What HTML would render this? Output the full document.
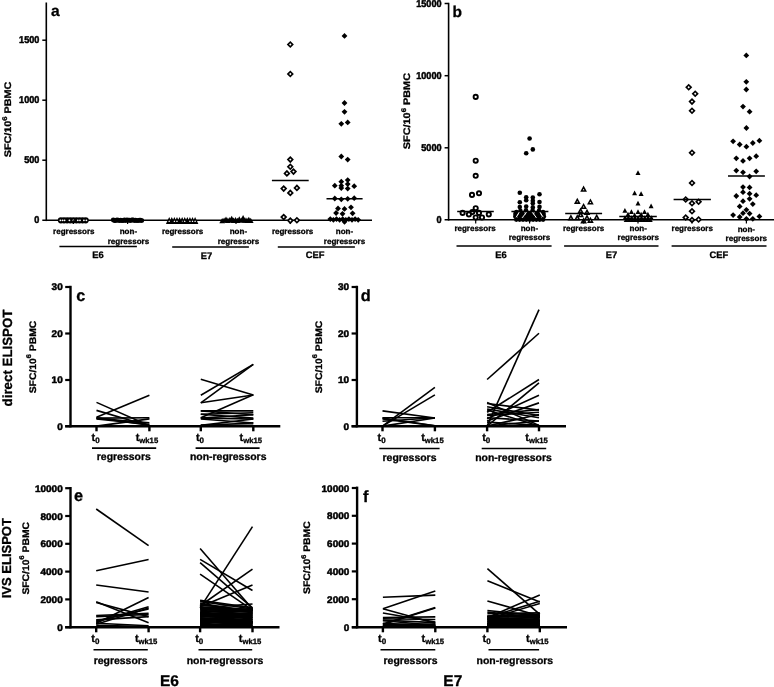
<!DOCTYPE html>
<html><head><meta charset="utf-8"><title>Figure</title>
<style>
html,body{margin:0;padding:0;background:#fff;}
body{width:774px;height:687px;overflow:hidden;font-family:"Liberation Sans",sans-serif;}
svg{display:block;will-change:transform;}
svg text{font-family:"Liberation Sans",sans-serif;font-weight:bold;fill:#000;text-rendering:geometricPrecision;}
</style></head><body>
<svg width="774" height="687" viewBox="0 0 774 687" stroke="#000" fill="none">
<rect x="0" y="0" width="774" height="687" fill="#fff" stroke="none"/>
<g stroke="#000">
<line x1="46.30" y1="2.50" x2="46.30" y2="221.10" stroke-width="1.6" stroke-linecap="butt"/>
<line x1="42.30" y1="220.30" x2="372.00" y2="220.30" stroke-width="1.6" stroke-linecap="butt"/>
<line x1="42.30" y1="40.20" x2="46.30" y2="40.20" stroke-width="1.5" stroke-linecap="butt"/>
<text stroke="#000" stroke-linejoin="round" transform="translate(39.40,43.20) scale(0.925,1)" font-size="9.9" text-anchor="end" stroke-width="0.5">1500</text>
<line x1="42.30" y1="100.20" x2="46.30" y2="100.20" stroke-width="1.5" stroke-linecap="butt"/>
<text stroke="#000" stroke-linejoin="round" transform="translate(39.40,103.20) scale(0.925,1)" font-size="9.9" text-anchor="end" stroke-width="0.5">1000</text>
<line x1="42.30" y1="160.20" x2="46.30" y2="160.20" stroke-width="1.5" stroke-linecap="butt"/>
<text stroke="#000" stroke-linejoin="round" transform="translate(39.40,163.20) scale(0.925,1)" font-size="9.9" text-anchor="end" stroke-width="0.5">500</text>
<text stroke="#000" stroke-linejoin="round" transform="translate(39.40,223.30) scale(0.925,1)" font-size="9.9" text-anchor="end" stroke-width="0.5">0</text>
<text stroke="#000" stroke-linejoin="round" stroke-width="0.3" x="51.00" y="16.00" font-size="15.5" text-anchor="start" >a</text>
<text stroke="#000" stroke-linejoin="round" stroke-width="0.3" transform="translate(11.30,119.50) rotate(-90) scale(1.135,1)" font-size="9.5" text-anchor="middle">SFC/10<tspan font-size="6.8" dy="-4.7">6</tspan><tspan dy="4.7"> PBMC</tspan></text>
<circle cx="60.90" cy="220.30" r="3.1" fill="#000" stroke="none"/>
<circle cx="64.00" cy="220.30" r="3.1" fill="#000" stroke="none"/>
<circle cx="67.10" cy="220.30" r="3.1" fill="#000" stroke="none"/>
<circle cx="70.20" cy="220.30" r="3.1" fill="#000" stroke="none"/>
<circle cx="73.30" cy="220.30" r="3.1" fill="#000" stroke="none"/>
<circle cx="76.40" cy="220.30" r="3.1" fill="#000" stroke="none"/>
<circle cx="79.50" cy="220.30" r="3.1" fill="#000" stroke="none"/>
<circle cx="82.60" cy="220.30" r="3.1" fill="#000" stroke="none"/>
<circle cx="85.70" cy="220.30" r="3.1" fill="#000" stroke="none"/>
<circle cx="60.4" cy="220.30" r="0.9" fill="#fff" stroke="none"/>
<circle cx="62.6" cy="220.30" r="0.9" fill="#fff" stroke="none"/>
<circle cx="64.6" cy="220.30" r="0.9" fill="#fff" stroke="none"/>
<circle cx="69.4" cy="220.30" r="0.9" fill="#fff" stroke="none"/>
<circle cx="73.3" cy="220.30" r="0.9" fill="#fff" stroke="none"/>
<circle cx="77.8" cy="220.30" r="0.9" fill="#fff" stroke="none"/>
<circle cx="80.0" cy="220.30" r="0.9" fill="#fff" stroke="none"/>
<circle cx="83.9" cy="220.30" r="0.9" fill="#fff" stroke="none"/>
<circle cx="86.4" cy="220.30" r="0.9" fill="#fff" stroke="none"/>
<circle cx="113.30" cy="220.00" r="2.45" fill="#000" stroke="none"/>
<circle cx="114.54" cy="220.60" r="2.45" fill="#000" stroke="none"/>
<circle cx="115.78" cy="220.60" r="2.45" fill="#000" stroke="none"/>
<circle cx="117.02" cy="220.00" r="2.45" fill="#000" stroke="none"/>
<circle cx="118.26" cy="220.30" r="2.45" fill="#000" stroke="none"/>
<circle cx="119.50" cy="220.60" r="2.45" fill="#000" stroke="none"/>
<circle cx="120.74" cy="220.30" r="2.45" fill="#000" stroke="none"/>
<circle cx="121.98" cy="220.60" r="2.45" fill="#000" stroke="none"/>
<circle cx="123.22" cy="220.60" r="2.45" fill="#000" stroke="none"/>
<circle cx="124.46" cy="220.00" r="2.45" fill="#000" stroke="none"/>
<circle cx="125.70" cy="220.60" r="2.45" fill="#000" stroke="none"/>
<circle cx="126.94" cy="220.00" r="2.45" fill="#000" stroke="none"/>
<circle cx="128.18" cy="220.30" r="2.45" fill="#000" stroke="none"/>
<circle cx="129.42" cy="220.30" r="2.45" fill="#000" stroke="none"/>
<circle cx="130.66" cy="220.60" r="2.45" fill="#000" stroke="none"/>
<circle cx="131.90" cy="220.00" r="2.45" fill="#000" stroke="none"/>
<circle cx="133.14" cy="220.00" r="2.45" fill="#000" stroke="none"/>
<circle cx="134.38" cy="220.60" r="2.45" fill="#000" stroke="none"/>
<circle cx="135.62" cy="220.30" r="2.45" fill="#000" stroke="none"/>
<circle cx="136.86" cy="220.60" r="2.45" fill="#000" stroke="none"/>
<circle cx="138.10" cy="220.60" r="2.45" fill="#000" stroke="none"/>
<circle cx="139.34" cy="220.30" r="2.45" fill="#000" stroke="none"/>
<circle cx="140.58" cy="220.30" r="2.45" fill="#000" stroke="none"/>
<circle cx="141.82" cy="220.60" r="2.45" fill="#000" stroke="none"/>
<path d="M169.20 217.10L172.50 223.90L165.90 223.90Z" fill="#000" stroke="none"/>
<path d="M171.79 217.10L175.09 223.90L168.49 223.90Z" fill="#000" stroke="none"/>
<path d="M174.38 217.10L177.68 223.90L171.08 223.90Z" fill="#000" stroke="none"/>
<path d="M176.97 217.10L180.27 223.90L173.67 223.90Z" fill="#000" stroke="none"/>
<path d="M179.56 217.10L182.86 223.90L176.26 223.90Z" fill="#000" stroke="none"/>
<path d="M182.15 217.10L185.45 223.90L178.85 223.90Z" fill="#000" stroke="none"/>
<path d="M184.74 217.10L188.04 223.90L181.44 223.90Z" fill="#000" stroke="none"/>
<path d="M187.33 217.10L190.63 223.90L184.03 223.90Z" fill="#000" stroke="none"/>
<path d="M189.92 217.10L193.22 223.90L186.62 223.90Z" fill="#000" stroke="none"/>
<path d="M192.51 217.10L195.81 223.90L189.21 223.90Z" fill="#000" stroke="none"/>
<path d="M195.10 217.10L198.40 223.90L191.80 223.90Z" fill="#000" stroke="none"/>
<path d="M169.20 220.30L170.10 222.10L168.30 222.10Z" fill="#fff" stroke="none"/>
<path d="M174.38 220.30L175.28 222.10L173.48 222.10Z" fill="#fff" stroke="none"/>
<path d="M176.97 220.30L177.87 222.10L176.07 222.10Z" fill="#fff" stroke="none"/>
<path d="M182.15 220.30L183.05 222.10L181.25 222.10Z" fill="#fff" stroke="none"/>
<path d="M184.74 220.30L185.64 222.10L183.84 222.10Z" fill="#fff" stroke="none"/>
<path d="M189.92 220.30L190.82 222.10L189.02 222.10Z" fill="#fff" stroke="none"/>
<path d="M192.51 220.30L193.41 222.10L191.61 222.10Z" fill="#fff" stroke="none"/>
<path d="M195.10 220.30L196.00 222.10L194.20 222.10Z" fill="#fff" stroke="none"/>
<path d="M222.20 217.90L225.10 223.30L219.30 223.30Z" fill="#000" stroke="none"/>
<path d="M224.10 217.40L227.00 222.80L221.20 222.80Z" fill="#000" stroke="none"/>
<path d="M226.00 216.40L228.90 221.80L223.10 221.80Z" fill="#000" stroke="none"/>
<path d="M227.90 217.60L230.80 223.00L225.00 223.00Z" fill="#000" stroke="none"/>
<path d="M229.80 217.10L232.70 222.50L226.90 222.50Z" fill="#000" stroke="none"/>
<path d="M231.70 215.70L234.60 221.10L228.80 221.10Z" fill="#000" stroke="none"/>
<path d="M233.60 217.50L236.50 222.90L230.70 222.90Z" fill="#000" stroke="none"/>
<path d="M235.50 216.90L238.40 222.30L232.60 222.30Z" fill="#000" stroke="none"/>
<path d="M237.40 217.70L240.30 223.10L234.50 223.10Z" fill="#000" stroke="none"/>
<path d="M239.30 216.30L242.20 221.70L236.40 221.70Z" fill="#000" stroke="none"/>
<path d="M241.20 217.40L244.10 222.80L238.30 222.80Z" fill="#000" stroke="none"/>
<path d="M243.10 215.10L246.00 220.50L240.20 220.50Z" fill="#000" stroke="none"/>
<path d="M245.00 217.30L247.90 222.70L242.10 222.70Z" fill="#000" stroke="none"/>
<path d="M246.90 217.60L249.80 223.00L244.00 223.00Z" fill="#000" stroke="none"/>
<path d="M248.80 216.70L251.70 222.10L245.90 222.10Z" fill="#000" stroke="none"/>
<path d="M250.70 217.70L253.60 223.10L247.80 223.10Z" fill="#000" stroke="none"/>
<text stroke="#000" stroke-linejoin="round" stroke-width="0.3" x="73.80" y="234.00" font-size="8" text-anchor="middle" >regressors</text>
<text stroke="#000" stroke-linejoin="round" stroke-width="0.3" x="128.40" y="234.00" font-size="8" text-anchor="middle" >non-</text>
<text stroke="#000" stroke-linejoin="round" stroke-width="0.3" x="128.40" y="243.60" font-size="8" text-anchor="middle" >regressors</text>
<line x1="59.40" y1="246.60" x2="136.90" y2="246.60" stroke-width="1.5" stroke-linecap="butt"/>
<text stroke="#000" stroke-linejoin="round" stroke-width="0.3" x="98.10" y="258.00" font-size="9.4" text-anchor="middle" >E6</text>
<text stroke="#000" stroke-linejoin="round" stroke-width="0.3" x="182.60" y="234.00" font-size="8" text-anchor="middle" >regressors</text>
<text stroke="#000" stroke-linejoin="round" stroke-width="0.3" x="238.40" y="234.00" font-size="8" text-anchor="middle" >non-</text>
<text stroke="#000" stroke-linejoin="round" stroke-width="0.3" x="238.40" y="243.60" font-size="8" text-anchor="middle" >regressors</text>
<line x1="172.20" y1="246.90" x2="248.90" y2="246.90" stroke-width="1.5" stroke-linecap="butt"/>
<text stroke="#000" stroke-linejoin="round" stroke-width="0.3" x="206.60" y="258.90" font-size="9.4" text-anchor="middle" >E7</text>
<text stroke="#000" stroke-linejoin="round" stroke-width="0.3" x="292.60" y="234.00" font-size="8" text-anchor="middle" >regressors</text>
<text stroke="#000" stroke-linejoin="round" stroke-width="0.3" x="344.50" y="234.00" font-size="8" text-anchor="middle" >non-</text>
<text stroke="#000" stroke-linejoin="round" stroke-width="0.3" x="344.50" y="243.60" font-size="8" text-anchor="middle" >regressors</text>
<line x1="277.80" y1="246.90" x2="354.90" y2="246.90" stroke-width="1.5" stroke-linecap="butt"/>
<text stroke="#000" stroke-linejoin="round" stroke-width="0.3" x="315.00" y="257.80" font-size="9.4" text-anchor="middle" >CEF</text>
<line x1="73.40" y1="220.30" x2="73.40" y2="224.00" stroke-width="1.2" stroke-linecap="butt"/>
<line x1="127.60" y1="220.30" x2="127.60" y2="224.00" stroke-width="1.2" stroke-linecap="butt"/>
<line x1="181.80" y1="220.30" x2="181.80" y2="224.00" stroke-width="1.2" stroke-linecap="butt"/>
<line x1="236.00" y1="220.30" x2="236.00" y2="224.00" stroke-width="1.2" stroke-linecap="butt"/>
<line x1="290.30" y1="220.30" x2="290.30" y2="224.00" stroke-width="1.2" stroke-linecap="butt"/>
<line x1="344.50" y1="220.30" x2="344.50" y2="224.00" stroke-width="1.2" stroke-linecap="butt"/>
<path d="M290.30 40.95L293.85 44.50L290.30 48.05L286.75 44.50Z" fill="#000" stroke="none"/>
<path d="M290.30 43.30L291.50 44.50L290.30 45.70L289.10 44.50Z" fill="#fff" stroke="none"/>
<path d="M290.30 70.45L293.85 74.00L290.30 77.55L286.75 74.00Z" fill="#000" stroke="none"/>
<path d="M290.30 72.80L291.50 74.00L290.30 75.20L289.10 74.00Z" fill="#fff" stroke="none"/>
<path d="M290.30 156.05L293.85 159.60L290.30 163.15L286.75 159.60Z" fill="#000" stroke="none"/>
<path d="M290.30 158.40L291.50 159.60L290.30 160.80L289.10 159.60Z" fill="#fff" stroke="none"/>
<path d="M290.30 163.25L293.85 166.80L290.30 170.35L286.75 166.80Z" fill="#000" stroke="none"/>
<path d="M290.30 165.60L291.50 166.80L290.30 168.00L289.10 166.80Z" fill="#fff" stroke="none"/>
<path d="M293.50 168.05L297.05 171.60L293.50 175.15L289.95 171.60Z" fill="#000" stroke="none"/>
<path d="M293.50 170.40L294.70 171.60L293.50 172.80L292.30 171.60Z" fill="#fff" stroke="none"/>
<path d="M286.90 169.85L290.45 173.40L286.90 176.95L283.35 173.40Z" fill="#000" stroke="none"/>
<path d="M286.90 172.20L288.10 173.40L286.90 174.60L285.70 173.40Z" fill="#fff" stroke="none"/>
<path d="M283.70 185.05L287.25 188.60L283.70 192.15L280.15 188.60Z" fill="#000" stroke="none"/>
<path d="M283.70 187.40L284.90 188.60L283.70 189.80L282.50 188.60Z" fill="#fff" stroke="none"/>
<path d="M296.90 184.35L300.45 187.90L296.90 191.45L293.35 187.90Z" fill="#000" stroke="none"/>
<path d="M296.90 186.70L298.10 187.90L296.90 189.10L295.70 187.90Z" fill="#fff" stroke="none"/>
<path d="M290.30 189.35L293.85 192.90L290.30 196.45L286.75 192.90Z" fill="#000" stroke="none"/>
<path d="M290.30 191.70L291.50 192.90L290.30 194.10L289.10 192.90Z" fill="#fff" stroke="none"/>
<path d="M283.70 213.55L287.25 217.10L283.70 220.65L280.15 217.10Z" fill="#000" stroke="none"/>
<path d="M283.70 215.90L284.90 217.10L283.70 218.30L282.50 217.10Z" fill="#fff" stroke="none"/>
<path d="M290.30 217.05L293.85 220.60L290.30 224.15L286.75 220.60Z" fill="#000" stroke="none"/>
<path d="M290.30 219.40L291.50 220.60L290.30 221.80L289.10 220.60Z" fill="#fff" stroke="none"/>
<path d="M296.90 216.65L300.45 220.20L296.90 223.75L293.35 220.20Z" fill="#000" stroke="none"/>
<path d="M296.90 219.00L298.10 220.20L296.90 221.40L295.70 220.20Z" fill="#fff" stroke="none"/>
<line x1="271.90" y1="180.60" x2="308.70" y2="180.60" stroke-width="1.5" stroke-linecap="butt"/>
<path d="M344.50 33.00L347.40 35.90L344.50 38.80L341.60 35.90Z" fill="#000" stroke="none"/>
<path d="M344.50 100.10L347.40 103.00L344.50 105.90L341.60 103.00Z" fill="#000" stroke="none"/>
<path d="M344.50 108.90L347.40 111.80L344.50 114.70L341.60 111.80Z" fill="#000" stroke="none"/>
<path d="M341.30 120.90L344.20 123.80L341.30 126.70L338.40 123.80Z" fill="#000" stroke="none"/>
<path d="M347.70 119.50L350.60 122.40L347.70 125.30L344.80 122.40Z" fill="#000" stroke="none"/>
<path d="M341.30 153.60L344.20 156.50L341.30 159.40L338.40 156.50Z" fill="#000" stroke="none"/>
<path d="M347.70 156.70L350.60 159.60L347.70 162.50L344.80 159.60Z" fill="#000" stroke="none"/>
<path d="M347.70 177.20L350.60 180.10L347.70 183.00L344.80 180.10Z" fill="#000" stroke="none"/>
<path d="M341.30 178.80L344.20 181.70L341.30 184.60L338.40 181.70Z" fill="#000" stroke="none"/>
<path d="M347.70 181.20L350.60 184.10L347.70 187.00L344.80 184.10Z" fill="#000" stroke="none"/>
<path d="M334.80 182.80L337.70 185.70L334.80 188.60L331.90 185.70Z" fill="#000" stroke="none"/>
<path d="M341.30 182.80L344.20 185.70L341.30 188.60L338.40 185.70Z" fill="#000" stroke="none"/>
<path d="M354.20 183.30L357.10 186.20L354.20 189.10L351.30 186.20Z" fill="#000" stroke="none"/>
<path d="M341.30 185.20L344.20 188.10L341.30 191.00L338.40 188.10Z" fill="#000" stroke="none"/>
<path d="M347.70 185.70L350.60 188.60L347.70 191.50L344.80 188.60Z" fill="#000" stroke="none"/>
<path d="M334.80 195.60L337.70 198.50L334.80 201.40L331.90 198.50Z" fill="#000" stroke="none"/>
<path d="M341.30 196.40L344.20 199.30L341.30 202.20L338.40 199.30Z" fill="#000" stroke="none"/>
<path d="M347.70 195.90L350.60 198.80L347.70 201.70L344.80 198.80Z" fill="#000" stroke="none"/>
<path d="M354.20 195.30L357.10 198.20L354.20 201.10L351.30 198.20Z" fill="#000" stroke="none"/>
<path d="M351.00 204.40L353.90 207.30L351.00 210.20L348.10 207.30Z" fill="#000" stroke="none"/>
<path d="M338.00 205.60L340.90 208.50L338.00 211.40L335.10 208.50Z" fill="#000" stroke="none"/>
<path d="M344.50 206.00L347.40 208.90L344.50 211.80L341.60 208.90Z" fill="#000" stroke="none"/>
<path d="M336.10 210.10L339.00 213.00L336.10 215.90L333.20 213.00Z" fill="#000" stroke="none"/>
<path d="M342.50 210.90L345.40 213.80L342.50 216.70L339.60 213.80Z" fill="#000" stroke="none"/>
<path d="M352.60 210.40L355.50 213.30L352.60 216.20L349.70 213.30Z" fill="#000" stroke="none"/>
<path d="M344.50 218.90L347.40 221.80L344.50 224.70L341.60 221.80Z" fill="#000" stroke="none"/>
<path d="M330.30 216.20L333.20 219.10L330.30 222.00L327.40 219.10Z" fill="#000" stroke="none"/>
<path d="M333.40 216.90L336.30 219.80L333.40 222.70L330.50 219.80Z" fill="#000" stroke="none"/>
<path d="M336.50 216.20L339.40 219.10L336.50 222.00L333.60 219.10Z" fill="#000" stroke="none"/>
<path d="M339.60 216.90L342.50 219.80L339.60 222.70L336.70 219.80Z" fill="#000" stroke="none"/>
<path d="M342.70 216.20L345.60 219.10L342.70 222.00L339.80 219.10Z" fill="#000" stroke="none"/>
<path d="M345.80 216.90L348.70 219.80L345.80 222.70L342.90 219.80Z" fill="#000" stroke="none"/>
<path d="M348.90 216.20L351.80 219.10L348.90 222.00L346.00 219.10Z" fill="#000" stroke="none"/>
<path d="M352.00 216.90L354.90 219.80L352.00 222.70L349.10 219.80Z" fill="#000" stroke="none"/>
<path d="M355.10 216.20L358.00 219.10L355.10 222.00L352.20 219.10Z" fill="#000" stroke="none"/>
<path d="M358.20 216.90L361.10 219.80L358.20 222.70L355.30 219.80Z" fill="#000" stroke="none"/>
<line x1="326.50" y1="198.80" x2="362.60" y2="198.80" stroke-width="1.5" stroke-linecap="butt"/>
<line x1="448.60" y1="2.80" x2="448.60" y2="220.60" stroke-width="1.6" stroke-linecap="butt"/>
<line x1="444.60" y1="219.80" x2="774.00" y2="219.80" stroke-width="1.6" stroke-linecap="butt"/>
<line x1="444.60" y1="3.50" x2="448.60" y2="3.50" stroke-width="1.5" stroke-linecap="butt"/>
<text stroke="#000" stroke-linejoin="round" transform="translate(441.60,6.50) scale(0.925,1)" font-size="9.9" text-anchor="end" stroke-width="0.5">15000</text>
<line x1="444.60" y1="75.70" x2="448.60" y2="75.70" stroke-width="1.5" stroke-linecap="butt"/>
<text stroke="#000" stroke-linejoin="round" transform="translate(441.60,78.70) scale(0.925,1)" font-size="9.9" text-anchor="end" stroke-width="0.5">10000</text>
<line x1="444.60" y1="147.80" x2="448.60" y2="147.80" stroke-width="1.5" stroke-linecap="butt"/>
<text stroke="#000" stroke-linejoin="round" transform="translate(441.60,150.80) scale(0.925,1)" font-size="9.9" text-anchor="end" stroke-width="0.5">5000</text>
<text stroke="#000" stroke-linejoin="round" transform="translate(441.60,222.80) scale(0.925,1)" font-size="9.9" text-anchor="end" stroke-width="0.5">0</text>
<text stroke="#000" stroke-linejoin="round" stroke-width="0.3" x="452.40" y="16.50" font-size="15.5" text-anchor="start" >b</text>
<text stroke="#000" stroke-linejoin="round" stroke-width="0.3" transform="translate(410.20,111.10) rotate(-90) scale(1.145,1)" font-size="9.5" text-anchor="middle">SFC/10<tspan font-size="6.8" dy="-4.7">6</tspan><tspan dy="4.7"> PBMC</tspan></text>
<circle cx="475.70" cy="96.90" r="2.1" fill="#fff" stroke-width="1.9"/>
<circle cx="475.70" cy="160.70" r="2.1" fill="#fff" stroke-width="1.9"/>
<circle cx="475.70" cy="175.80" r="2.1" fill="#fff" stroke-width="1.9"/>
<circle cx="479.00" cy="193.30" r="2.1" fill="#fff" stroke-width="1.9"/>
<circle cx="472.00" cy="194.90" r="2.1" fill="#fff" stroke-width="1.9"/>
<circle cx="475.70" cy="208.20" r="2.1" fill="#fff" stroke-width="1.9"/>
<circle cx="462.60" cy="212.90" r="2.1" fill="#fff" stroke-width="1.9"/>
<circle cx="472.30" cy="212.10" r="2.1" fill="#fff" stroke-width="1.9"/>
<circle cx="479.00" cy="212.90" r="2.1" fill="#fff" stroke-width="1.9"/>
<circle cx="468.90" cy="214.40" r="2.1" fill="#fff" stroke-width="1.9"/>
<circle cx="488.80" cy="214.40" r="2.1" fill="#fff" stroke-width="1.9"/>
<circle cx="475.70" cy="217.50" r="2.1" fill="#fff" stroke-width="1.9"/>
<circle cx="482.00" cy="217.50" r="2.1" fill="#fff" stroke-width="1.9"/>
<line x1="457.20" y1="211.60" x2="493.80" y2="211.60" stroke-width="1.5" stroke-linecap="butt"/>
<circle cx="529.60" cy="138.50" r="2.3" fill="#000" stroke="none"/>
<circle cx="532.80" cy="149.40" r="2.3" fill="#000" stroke="none"/>
<circle cx="526.20" cy="153.30" r="2.3" fill="#000" stroke="none"/>
<circle cx="519.80" cy="192.80" r="2.3" fill="#000" stroke="none"/>
<circle cx="539.50" cy="194.30" r="2.3" fill="#000" stroke="none"/>
<circle cx="526.20" cy="197.30" r="2.3" fill="#000" stroke="none"/>
<circle cx="532.80" cy="197.60" r="2.3" fill="#000" stroke="none"/>
<circle cx="526.20" cy="200.30" r="2.3" fill="#000" stroke="none"/>
<circle cx="532.80" cy="200.70" r="2.3" fill="#000" stroke="none"/>
<circle cx="519.80" cy="202.30" r="2.3" fill="#000" stroke="none"/>
<circle cx="539.50" cy="202.00" r="2.3" fill="#000" stroke="none"/>
<circle cx="532.80" cy="203.20" r="2.3" fill="#000" stroke="none"/>
<circle cx="519.80" cy="207.00" r="2.3" fill="#000" stroke="none"/>
<circle cx="526.20" cy="206.50" r="2.3" fill="#000" stroke="none"/>
<circle cx="532.80" cy="207.40" r="2.3" fill="#000" stroke="none"/>
<circle cx="539.50" cy="206.90" r="2.3" fill="#000" stroke="none"/>
<circle cx="515.40" cy="213.90" r="2.3" fill="#000" stroke="none"/>
<circle cx="520.60" cy="213.90" r="2.3" fill="#000" stroke="none"/>
<circle cx="522.60" cy="213.90" r="2.3" fill="#000" stroke="none"/>
<circle cx="527.80" cy="213.90" r="2.3" fill="#000" stroke="none"/>
<circle cx="529.50" cy="213.90" r="2.3" fill="#000" stroke="none"/>
<circle cx="531.20" cy="213.90" r="2.3" fill="#000" stroke="none"/>
<circle cx="536.40" cy="213.90" r="2.3" fill="#000" stroke="none"/>
<circle cx="538.40" cy="213.90" r="2.3" fill="#000" stroke="none"/>
<circle cx="543.60" cy="213.90" r="2.3" fill="#000" stroke="none"/>
<circle cx="516.40" cy="212.00" r="2.3" fill="#000" stroke="none"/>
<circle cx="543.00" cy="212.00" r="2.3" fill="#000" stroke="none"/>
<circle cx="526.00" cy="210.30" r="2.3" fill="#000" stroke="none"/>
<circle cx="532.60" cy="210.50" r="2.3" fill="#000" stroke="none"/>
<circle cx="520.40" cy="210.90" r="2.3" fill="#000" stroke="none"/>
<circle cx="539.00" cy="210.90" r="2.3" fill="#000" stroke="none"/>
<circle cx="515.30" cy="216.60" r="2.3" fill="#000" stroke="none"/>
<circle cx="519.60" cy="216.60" r="2.3" fill="#000" stroke="none"/>
<circle cx="521.60" cy="216.60" r="2.3" fill="#000" stroke="none"/>
<circle cx="526.00" cy="216.60" r="2.3" fill="#000" stroke="none"/>
<circle cx="528.30" cy="216.60" r="2.3" fill="#000" stroke="none"/>
<circle cx="530.70" cy="216.60" r="2.3" fill="#000" stroke="none"/>
<circle cx="533.00" cy="216.60" r="2.3" fill="#000" stroke="none"/>
<circle cx="537.40" cy="216.60" r="2.3" fill="#000" stroke="none"/>
<circle cx="539.40" cy="216.60" r="2.3" fill="#000" stroke="none"/>
<circle cx="543.90" cy="216.60" r="2.3" fill="#000" stroke="none"/>
<circle cx="516.30" cy="219.60" r="2.3" fill="#000" stroke="none"/>
<circle cx="519.65" cy="219.60" r="2.3" fill="#000" stroke="none"/>
<circle cx="523.00" cy="219.60" r="2.3" fill="#000" stroke="none"/>
<circle cx="526.35" cy="219.60" r="2.3" fill="#000" stroke="none"/>
<circle cx="529.70" cy="219.60" r="2.3" fill="#000" stroke="none"/>
<circle cx="533.05" cy="219.60" r="2.3" fill="#000" stroke="none"/>
<circle cx="536.40" cy="219.60" r="2.3" fill="#000" stroke="none"/>
<circle cx="539.75" cy="219.60" r="2.3" fill="#000" stroke="none"/>
<circle cx="543.10" cy="219.60" r="2.3" fill="#000" stroke="none"/>
<line x1="519.2" y1="212.2" x2="516.3" y2="217.0" stroke="#fff" stroke-width="1.0" stroke-linecap="round"/>
<line x1="526.5" y1="212.4" x2="522.3" y2="217.6" stroke="#fff" stroke-width="1.0" stroke-linecap="round"/>
<line x1="532.3" y1="212.4" x2="536.2" y2="217.4" stroke="#fff" stroke-width="1.0" stroke-linecap="round"/>
<line x1="540.0" y1="212.2" x2="543.0" y2="216.8" stroke="#fff" stroke-width="1.0" stroke-linecap="round"/>
<line x1="511.40" y1="211.60" x2="548.40" y2="211.60" stroke-width="1.5" stroke-linecap="butt"/>
<path d="M583.60 185.60L586.95 191.80L580.25 191.80Z" fill="#000" stroke="none"/>
<path d="M583.60 188.80L584.40 190.25L582.80 190.25Z" fill="#fff" stroke="none"/>
<path d="M577.30 197.70L580.65 203.90L573.95 203.90Z" fill="#000" stroke="none"/>
<path d="M577.30 200.90L578.10 202.35L576.50 202.35Z" fill="#fff" stroke="none"/>
<path d="M590.40 198.40L593.75 204.60L587.05 204.60Z" fill="#000" stroke="none"/>
<path d="M590.40 201.60L591.20 203.05L589.60 203.05Z" fill="#fff" stroke="none"/>
<path d="M583.60 202.90L586.95 209.10L580.25 209.10Z" fill="#000" stroke="none"/>
<path d="M583.60 206.10L584.40 207.55L582.80 207.55Z" fill="#fff" stroke="none"/>
<path d="M580.60 207.40L583.95 213.60L577.25 213.60Z" fill="#000" stroke="none"/>
<path d="M580.60 210.60L581.40 212.05L579.80 212.05Z" fill="#fff" stroke="none"/>
<path d="M587.00 208.80L590.35 215.00L583.65 215.00Z" fill="#000" stroke="none"/>
<path d="M587.00 212.00L587.80 213.45L586.20 213.45Z" fill="#fff" stroke="none"/>
<path d="M580.60 211.10L583.95 217.30L577.25 217.30Z" fill="#000" stroke="none"/>
<path d="M580.60 214.30L581.40 215.75L579.80 215.75Z" fill="#fff" stroke="none"/>
<path d="M570.90 214.20L574.25 220.40L567.55 220.40Z" fill="#000" stroke="none"/>
<path d="M570.90 217.40L571.70 218.85L570.10 218.85Z" fill="#fff" stroke="none"/>
<path d="M577.30 214.20L580.65 220.40L573.95 220.40Z" fill="#000" stroke="none"/>
<path d="M577.30 217.40L578.10 218.85L576.50 218.85Z" fill="#fff" stroke="none"/>
<path d="M587.00 214.20L590.35 220.40L583.65 220.40Z" fill="#000" stroke="none"/>
<path d="M587.00 217.40L587.80 218.85L586.20 218.85Z" fill="#fff" stroke="none"/>
<path d="M596.70 213.80L600.05 220.00L593.35 220.00Z" fill="#000" stroke="none"/>
<path d="M596.70 217.00L597.50 218.45L595.90 218.45Z" fill="#fff" stroke="none"/>
<path d="M583.60 217.20L586.95 223.40L580.25 223.40Z" fill="#000" stroke="none"/>
<path d="M583.60 220.40L584.40 221.85L582.80 221.85Z" fill="#fff" stroke="none"/>
<path d="M590.40 216.70L593.75 222.90L587.05 222.90Z" fill="#000" stroke="none"/>
<path d="M590.40 219.90L591.20 221.35L589.60 221.35Z" fill="#fff" stroke="none"/>
<line x1="565.20" y1="213.60" x2="602.10" y2="213.60" stroke-width="1.5" stroke-linecap="butt"/>
<path d="M638.00 170.20L640.50 175.00L635.50 175.00Z" fill="#000" stroke="none"/>
<path d="M634.60 190.40L637.10 195.20L632.10 195.20Z" fill="#000" stroke="none"/>
<path d="M641.10 191.20L643.60 196.00L638.60 196.00Z" fill="#000" stroke="none"/>
<path d="M638.00 200.80L640.50 205.60L635.50 205.60Z" fill="#000" stroke="none"/>
<path d="M651.10 203.50L653.60 208.30L648.60 208.30Z" fill="#000" stroke="none"/>
<path d="M624.90 208.00L627.40 212.80L622.40 212.80Z" fill="#000" stroke="none"/>
<path d="M631.40 209.20L633.90 214.00L628.90 214.00Z" fill="#000" stroke="none"/>
<path d="M638.00 209.20L640.50 214.00L635.50 214.00Z" fill="#000" stroke="none"/>
<path d="M644.50 209.20L647.00 214.00L642.00 214.00Z" fill="#000" stroke="none"/>
<path d="M628.00 211.70L630.50 216.50L625.50 216.50Z" fill="#000" stroke="none"/>
<path d="M634.60 212.50L637.10 217.30L632.10 217.30Z" fill="#000" stroke="none"/>
<path d="M641.10 211.70L643.60 216.50L638.60 216.50Z" fill="#000" stroke="none"/>
<path d="M647.90 211.70L650.40 216.50L645.40 216.50Z" fill="#000" stroke="none"/>
<path d="M625.00 215.20L627.50 220.00L622.50 220.00Z" fill="#000" stroke="none"/>
<path d="M628.30 215.20L630.80 220.00L625.80 220.00Z" fill="#000" stroke="none"/>
<path d="M631.60 215.20L634.10 220.00L629.10 220.00Z" fill="#000" stroke="none"/>
<path d="M634.90 215.20L637.40 220.00L632.40 220.00Z" fill="#000" stroke="none"/>
<path d="M638.20 215.20L640.70 220.00L635.70 220.00Z" fill="#000" stroke="none"/>
<path d="M641.50 215.20L644.00 220.00L639.00 220.00Z" fill="#000" stroke="none"/>
<path d="M644.80 215.20L647.30 220.00L642.30 220.00Z" fill="#000" stroke="none"/>
<path d="M648.10 215.20L650.60 220.00L645.60 220.00Z" fill="#000" stroke="none"/>
<path d="M651.40 215.20L653.90 220.00L648.90 220.00Z" fill="#000" stroke="none"/>
<path d="M626.20 217.20L628.70 222.00L623.70 222.00Z" fill="#000" stroke="none"/>
<path d="M629.20 217.20L631.70 222.00L626.70 222.00Z" fill="#000" stroke="none"/>
<path d="M632.20 217.20L634.70 222.00L629.70 222.00Z" fill="#000" stroke="none"/>
<path d="M635.20 217.20L637.70 222.00L632.70 222.00Z" fill="#000" stroke="none"/>
<path d="M638.20 217.20L640.70 222.00L635.70 222.00Z" fill="#000" stroke="none"/>
<path d="M641.20 217.20L643.70 222.00L638.70 222.00Z" fill="#000" stroke="none"/>
<path d="M644.20 217.20L646.70 222.00L641.70 222.00Z" fill="#000" stroke="none"/>
<path d="M647.20 217.20L649.70 222.00L644.70 222.00Z" fill="#000" stroke="none"/>
<path d="M650.20 217.20L652.70 222.00L647.70 222.00Z" fill="#000" stroke="none"/>
<line x1="619.30" y1="216.60" x2="656.80" y2="216.60" stroke-width="1.5" stroke-linecap="butt"/>
<path d="M688.70 83.75L692.25 87.30L688.70 90.85L685.15 87.30Z" fill="#000" stroke="none"/>
<path d="M688.70 86.10L689.90 87.30L688.70 88.50L687.50 87.30Z" fill="#fff" stroke="none"/>
<path d="M695.20 90.15L698.75 93.70L695.20 97.25L691.65 93.70Z" fill="#000" stroke="none"/>
<path d="M695.20 92.50L696.40 93.70L695.20 94.90L694.00 93.70Z" fill="#fff" stroke="none"/>
<path d="M692.00 98.05L695.55 101.60L692.00 105.15L688.45 101.60Z" fill="#000" stroke="none"/>
<path d="M692.00 100.40L693.20 101.60L692.00 102.80L690.80 101.60Z" fill="#fff" stroke="none"/>
<path d="M692.00 107.25L695.55 110.80L692.00 114.35L688.45 110.80Z" fill="#000" stroke="none"/>
<path d="M692.00 109.60L693.20 110.80L692.00 112.00L690.80 110.80Z" fill="#fff" stroke="none"/>
<path d="M692.00 149.25L695.55 152.80L692.00 156.35L688.45 152.80Z" fill="#000" stroke="none"/>
<path d="M692.00 151.60L693.20 152.80L692.00 154.00L690.80 152.80Z" fill="#fff" stroke="none"/>
<path d="M692.00 179.45L695.55 183.00L692.00 186.55L688.45 183.00Z" fill="#000" stroke="none"/>
<path d="M692.00 181.80L693.20 183.00L692.00 184.20L690.80 183.00Z" fill="#fff" stroke="none"/>
<path d="M685.70 195.95L689.25 199.50L685.70 203.05L682.15 199.50Z" fill="#000" stroke="none"/>
<path d="M685.70 198.30L686.90 199.50L685.70 200.70L684.50 199.50Z" fill="#fff" stroke="none"/>
<path d="M698.60 198.15L702.15 201.70L698.60 205.25L695.05 201.70Z" fill="#000" stroke="none"/>
<path d="M698.60 200.50L699.80 201.70L698.60 202.90L697.40 201.70Z" fill="#fff" stroke="none"/>
<path d="M692.00 199.65L695.55 203.20L692.00 206.75L688.45 203.20Z" fill="#000" stroke="none"/>
<path d="M692.00 202.00L693.20 203.20L692.00 204.40L690.80 203.20Z" fill="#fff" stroke="none"/>
<path d="M692.00 207.65L695.55 211.20L692.00 214.75L688.45 211.20Z" fill="#000" stroke="none"/>
<path d="M692.00 210.00L693.20 211.20L692.00 212.40L690.80 211.20Z" fill="#fff" stroke="none"/>
<path d="M685.70 213.95L689.25 217.50L685.70 221.05L682.15 217.50Z" fill="#000" stroke="none"/>
<path d="M685.70 216.30L686.90 217.50L685.70 218.70L684.50 217.50Z" fill="#fff" stroke="none"/>
<path d="M692.00 216.45L695.55 220.00L692.00 223.55L688.45 220.00Z" fill="#000" stroke="none"/>
<path d="M692.00 218.80L693.20 220.00L692.00 221.20L690.80 220.00Z" fill="#fff" stroke="none"/>
<path d="M698.60 215.95L702.15 219.50L698.60 223.05L695.05 219.50Z" fill="#000" stroke="none"/>
<path d="M698.60 218.30L699.80 219.50L698.60 220.70L697.40 219.50Z" fill="#fff" stroke="none"/>
<line x1="673.60" y1="199.50" x2="710.90" y2="199.50" stroke-width="1.5" stroke-linecap="butt"/>
<path d="M746.30 52.50L749.20 55.40L746.30 58.30L743.40 55.40Z" fill="#000" stroke="none"/>
<path d="M746.30 78.90L749.20 81.80L746.30 84.70L743.40 81.80Z" fill="#000" stroke="none"/>
<path d="M746.30 86.60L749.20 89.50L746.30 92.40L743.40 89.50Z" fill="#000" stroke="none"/>
<path d="M743.00 103.70L745.90 106.60L743.00 109.50L740.10 106.60Z" fill="#000" stroke="none"/>
<path d="M749.60 108.80L752.50 111.70L749.60 114.60L746.70 111.70Z" fill="#000" stroke="none"/>
<path d="M746.40 125.10L749.30 128.00L746.40 130.90L743.50 128.00Z" fill="#000" stroke="none"/>
<path d="M733.10 138.40L736.00 141.30L733.10 144.20L730.20 141.30Z" fill="#000" stroke="none"/>
<path d="M759.40 137.80L762.30 140.70L759.40 143.60L756.50 140.70Z" fill="#000" stroke="none"/>
<path d="M752.80 140.10L755.70 143.00L752.80 145.90L749.90 143.00Z" fill="#000" stroke="none"/>
<path d="M739.70 141.60L742.60 144.50L739.70 147.40L736.80 144.50Z" fill="#000" stroke="none"/>
<path d="M746.40 143.80L749.30 146.70L746.40 149.60L743.50 146.70Z" fill="#000" stroke="none"/>
<path d="M756.20 153.30L759.10 156.20L756.20 159.10L753.30 156.20Z" fill="#000" stroke="none"/>
<path d="M736.30 155.40L739.20 158.30L736.30 161.20L733.40 158.30Z" fill="#000" stroke="none"/>
<path d="M749.60 155.40L752.50 158.30L749.60 161.20L746.70 158.30Z" fill="#000" stroke="none"/>
<path d="M743.00 158.00L745.90 160.90L743.00 163.80L740.10 160.90Z" fill="#000" stroke="none"/>
<path d="M736.30 167.70L739.20 170.60L736.30 173.50L733.40 170.60Z" fill="#000" stroke="none"/>
<path d="M743.00 169.40L745.90 172.30L743.00 175.20L740.10 172.30Z" fill="#000" stroke="none"/>
<path d="M756.20 168.40L759.10 171.30L756.20 174.20L753.30 171.30Z" fill="#000" stroke="none"/>
<path d="M749.60 173.60L752.50 176.50L749.60 179.40L746.70 176.50Z" fill="#000" stroke="none"/>
<path d="M743.00 184.20L745.90 187.10L743.00 190.00L740.10 187.10Z" fill="#000" stroke="none"/>
<path d="M749.60 184.50L752.50 187.40L749.60 190.30L746.70 187.40Z" fill="#000" stroke="none"/>
<path d="M743.00 189.30L745.90 192.20L743.00 195.10L740.10 192.20Z" fill="#000" stroke="none"/>
<path d="M749.60 190.80L752.50 193.70L749.60 196.60L746.70 193.70Z" fill="#000" stroke="none"/>
<path d="M736.30 193.10L739.20 196.00L736.30 198.90L733.40 196.00Z" fill="#000" stroke="none"/>
<path d="M756.20 192.30L759.10 195.20L756.20 198.10L753.30 195.20Z" fill="#000" stroke="none"/>
<path d="M749.60 195.90L752.50 198.80L749.60 201.70L746.70 198.80Z" fill="#000" stroke="none"/>
<path d="M743.00 198.30L745.90 201.20L743.00 204.10L740.10 201.20Z" fill="#000" stroke="none"/>
<path d="M752.80 201.20L755.70 204.10L752.80 207.00L749.90 204.10Z" fill="#000" stroke="none"/>
<path d="M739.70 203.50L742.60 206.40L739.70 209.30L736.80 206.40Z" fill="#000" stroke="none"/>
<path d="M746.40 206.90L749.30 209.80L746.40 212.70L743.50 209.80Z" fill="#000" stroke="none"/>
<path d="M743.00 210.30L745.90 213.20L743.00 216.10L740.10 213.20Z" fill="#000" stroke="none"/>
<path d="M749.60 210.70L752.50 213.60L749.60 216.50L746.70 213.60Z" fill="#000" stroke="none"/>
<path d="M733.10 212.20L736.00 215.10L733.10 218.00L730.20 215.10Z" fill="#000" stroke="none"/>
<path d="M759.40 213.50L762.30 216.40L759.40 219.30L756.50 216.40Z" fill="#000" stroke="none"/>
<path d="M739.70 214.10L742.60 217.00L739.70 219.90L736.80 217.00Z" fill="#000" stroke="none"/>
<path d="M746.40 215.90L749.30 218.80L746.40 221.70L743.50 218.80Z" fill="#000" stroke="none"/>
<path d="M752.80 215.90L755.70 218.80L752.80 221.70L749.90 218.80Z" fill="#000" stroke="none"/>
<line x1="728.00" y1="176.10" x2="764.90" y2="176.10" stroke-width="1.5" stroke-linecap="butt"/>
<line x1="475.70" y1="219.80" x2="475.70" y2="223.50" stroke-width="1.2" stroke-linecap="butt"/>
<line x1="529.60" y1="219.80" x2="529.60" y2="223.50" stroke-width="1.2" stroke-linecap="butt"/>
<line x1="583.60" y1="219.80" x2="583.60" y2="223.50" stroke-width="1.2" stroke-linecap="butt"/>
<line x1="638.00" y1="219.80" x2="638.00" y2="223.50" stroke-width="1.2" stroke-linecap="butt"/>
<line x1="692.00" y1="219.80" x2="692.00" y2="223.50" stroke-width="1.2" stroke-linecap="butt"/>
<line x1="746.40" y1="219.80" x2="746.40" y2="223.50" stroke-width="1.2" stroke-linecap="butt"/>
<text stroke="#000" stroke-linejoin="round" stroke-width="0.3" x="475.10" y="231.20" font-size="8" text-anchor="middle" >regressors</text>
<text stroke="#000" stroke-linejoin="round" stroke-width="0.3" x="529.40" y="231.20" font-size="8" text-anchor="middle" >non-</text>
<text stroke="#000" stroke-linejoin="round" stroke-width="0.3" x="529.40" y="240.00" font-size="8" text-anchor="middle" >regressors</text>
<line x1="456.50" y1="246.00" x2="551.60" y2="246.00" stroke-width="1.5" stroke-linecap="butt"/>
<text stroke="#000" stroke-linejoin="round" stroke-width="0.3" x="501.00" y="258.40" font-size="9.4" text-anchor="middle" >E6</text>
<text stroke="#000" stroke-linejoin="round" stroke-width="0.3" x="583.60" y="231.20" font-size="8" text-anchor="middle" >regressors</text>
<text stroke="#000" stroke-linejoin="round" stroke-width="0.3" x="638.20" y="231.20" font-size="8" text-anchor="middle" >non-</text>
<text stroke="#000" stroke-linejoin="round" stroke-width="0.3" x="638.20" y="240.00" font-size="8" text-anchor="middle" >regressors</text>
<line x1="564.10" y1="246.00" x2="658.50" y2="246.00" stroke-width="1.5" stroke-linecap="butt"/>
<text stroke="#000" stroke-linejoin="round" stroke-width="0.3" x="611.50" y="258.40" font-size="9.4" text-anchor="middle" >E7</text>
<text stroke="#000" stroke-linejoin="round" stroke-width="0.3" x="692.20" y="231.20" font-size="8" text-anchor="middle" >regressors</text>
<text stroke="#000" stroke-linejoin="round" stroke-width="0.3" x="746.30" y="232.40" font-size="8" text-anchor="middle" >non-</text>
<text stroke="#000" stroke-linejoin="round" stroke-width="0.3" x="746.30" y="241.20" font-size="8" text-anchor="middle" >regressors</text>
<line x1="671.60" y1="246.00" x2="766.50" y2="246.00" stroke-width="1.5" stroke-linecap="butt"/>
<text stroke="#000" stroke-linejoin="round" stroke-width="0.3" x="718.80" y="258.40" font-size="9.4" text-anchor="middle" >CEF</text>
<line x1="70.50" y1="285.80" x2="70.50" y2="427.40" stroke-width="2.4" stroke-linecap="butt"/>
<line x1="65.20" y1="426.20" x2="280.30" y2="426.20" stroke-width="2.4" stroke-linecap="butt"/>
<line x1="65.20" y1="287.00" x2="70.50" y2="287.00" stroke-width="2.2" stroke-linecap="butt"/>
<text stroke="#000" stroke-linejoin="round" transform="translate(62.70,290.45) scale(1.04,1)" font-size="9.6" text-anchor="end" stroke-width="0.5">30</text>
<line x1="65.20" y1="333.50" x2="70.50" y2="333.50" stroke-width="2.2" stroke-linecap="butt"/>
<text stroke="#000" stroke-linejoin="round" transform="translate(62.70,336.95) scale(1.04,1)" font-size="9.6" text-anchor="end" stroke-width="0.5">20</text>
<line x1="65.20" y1="380.00" x2="70.50" y2="380.00" stroke-width="2.2" stroke-linecap="butt"/>
<text stroke="#000" stroke-linejoin="round" transform="translate(62.70,383.45) scale(1.04,1)" font-size="9.6" text-anchor="end" stroke-width="0.5">10</text>
<line x1="65.20" y1="426.20" x2="70.50" y2="426.20" stroke-width="2.2" stroke-linecap="butt"/>
<text stroke="#000" stroke-linejoin="round" transform="translate(62.70,429.65) scale(1.04,1)" font-size="9.6" text-anchor="end" stroke-width="0.5">0</text>
<text stroke="#000" stroke-linejoin="round" stroke-width="0.3" x="76.30" y="300.90" font-size="16.3" text-anchor="start" >c</text>
<line x1="96.50" y1="426.20" x2="96.50" y2="431.30" stroke-width="2.4" stroke-linecap="butt"/>
<line x1="149.40" y1="426.20" x2="149.40" y2="431.30" stroke-width="2.4" stroke-linecap="butt"/>
<text stroke="#000" stroke-linejoin="round" stroke-width="0.3" x="91.60" y="440.50" font-size="11" text-anchor="start">t<tspan font-size="8.0" dy="2.6">0</tspan></text>
<text stroke="#000" stroke-linejoin="round" stroke-width="0.3" x="135.70" y="440.50" font-size="11" text-anchor="start">t<tspan font-size="7.7" dy="2.6">wk15</tspan></text>
<line x1="200.80" y1="426.20" x2="200.80" y2="431.30" stroke-width="2.4" stroke-linecap="butt"/>
<line x1="253.30" y1="426.20" x2="253.30" y2="431.30" stroke-width="2.4" stroke-linecap="butt"/>
<text stroke="#000" stroke-linejoin="round" stroke-width="0.3" x="195.90" y="440.50" font-size="11" text-anchor="start">t<tspan font-size="8.0" dy="2.6">0</tspan></text>
<text stroke="#000" stroke-linejoin="round" stroke-width="0.3" x="239.60" y="440.50" font-size="11" text-anchor="start">t<tspan font-size="7.7" dy="2.6">wk15</tspan></text>
<line x1="92.00" y1="448.15" x2="156.20" y2="448.15" stroke-width="1.6" stroke-linecap="butt"/>
<line x1="195.60" y1="448.15" x2="259.60" y2="448.15" stroke-width="1.6" stroke-linecap="butt"/>
<text stroke="#000" stroke-linejoin="round" stroke-width="0.3" x="123.80" y="460.30" font-size="10.45" text-anchor="middle" >regressors</text>
<text stroke="#000" stroke-linejoin="round" stroke-width="0.3" x="228.20" y="460.30" font-size="10.45" text-anchor="middle" >non-regressors</text>
<text stroke="#000" stroke-linejoin="round" stroke-width="0.3" transform="translate(36.10,357.00) rotate(-90) scale(1.09,1)" font-size="9.5" text-anchor="middle">SFC/10<tspan font-size="6.8" dy="-4.7">6</tspan><tspan dy="4.7"> PBMC</tspan></text>
<text stroke="#000" stroke-linejoin="round" stroke-width="0.3" transform="translate(12.00,358.00) rotate(-90)" font-size="13.3" text-anchor="middle">direct ELISPOT</text>
<line x1="96.50" y1="402.37" x2="149.40" y2="425.77" stroke-width="1.6" stroke-linecap="butt"/>
<line x1="96.50" y1="410.38" x2="149.40" y2="425.93" stroke-width="1.6" stroke-linecap="butt"/>
<line x1="96.50" y1="417.28" x2="149.40" y2="395.16" stroke-width="1.6" stroke-linecap="butt"/>
<line x1="96.50" y1="418.08" x2="149.40" y2="417.76" stroke-width="1.6" stroke-linecap="butt"/>
<line x1="96.50" y1="417.76" x2="149.40" y2="425.29" stroke-width="1.6" stroke-linecap="butt"/>
<line x1="96.50" y1="426.09" x2="149.40" y2="418.88" stroke-width="1.6" stroke-linecap="butt"/>
<line x1="96.50" y1="418.40" x2="149.40" y2="422.88" stroke-width="1.6" stroke-linecap="butt"/>
<line x1="96.50" y1="419.04" x2="149.40" y2="424.49" stroke-width="1.6" stroke-linecap="butt"/>
<line x1="96.50" y1="426.09" x2="149.40" y2="426.09" stroke-width="1.6" stroke-linecap="butt"/>
<line x1="200.80" y1="379.26" x2="253.30" y2="394.97" stroke-width="1.6" stroke-linecap="butt"/>
<line x1="200.80" y1="395.29" x2="253.30" y2="364.36" stroke-width="1.6" stroke-linecap="butt"/>
<line x1="200.80" y1="402.82" x2="253.30" y2="364.36" stroke-width="1.6" stroke-linecap="butt"/>
<line x1="200.80" y1="402.82" x2="253.30" y2="394.97" stroke-width="1.6" stroke-linecap="butt"/>
<line x1="200.80" y1="417.81" x2="253.30" y2="394.84" stroke-width="1.6" stroke-linecap="butt"/>
<line x1="200.80" y1="410.83" x2="253.30" y2="410.83" stroke-width="1.6" stroke-linecap="butt"/>
<line x1="200.80" y1="410.83" x2="253.30" y2="414.71" stroke-width="1.6" stroke-linecap="butt"/>
<line x1="200.80" y1="414.22" x2="253.30" y2="412.77" stroke-width="1.6" stroke-linecap="butt"/>
<line x1="200.80" y1="414.22" x2="253.30" y2="418.10" stroke-width="1.6" stroke-linecap="butt"/>
<line x1="200.80" y1="418.10" x2="253.30" y2="414.71" stroke-width="1.6" stroke-linecap="butt"/>
<line x1="200.80" y1="418.10" x2="253.30" y2="419.07" stroke-width="1.6" stroke-linecap="butt"/>
<line x1="200.80" y1="419.07" x2="253.30" y2="422.95" stroke-width="1.6" stroke-linecap="butt"/>
<line x1="200.80" y1="425.37" x2="253.30" y2="419.07" stroke-width="1.6" stroke-linecap="butt"/>
<line x1="200.80" y1="425.37" x2="253.30" y2="422.95" stroke-width="1.6" stroke-linecap="butt"/>
<line x1="200.80" y1="425.37" x2="253.30" y2="425.37" stroke-width="1.6" stroke-linecap="butt"/>
<line x1="356.90" y1="285.80" x2="356.90" y2="427.40" stroke-width="2.4" stroke-linecap="butt"/>
<line x1="351.60" y1="426.20" x2="566.00" y2="426.20" stroke-width="2.4" stroke-linecap="butt"/>
<line x1="351.60" y1="287.00" x2="356.90" y2="287.00" stroke-width="2.2" stroke-linecap="butt"/>
<text stroke="#000" stroke-linejoin="round" transform="translate(349.10,290.45) scale(1.04,1)" font-size="9.6" text-anchor="end" stroke-width="0.5">30</text>
<line x1="351.60" y1="333.50" x2="356.90" y2="333.50" stroke-width="2.2" stroke-linecap="butt"/>
<text stroke="#000" stroke-linejoin="round" transform="translate(349.10,336.95) scale(1.04,1)" font-size="9.6" text-anchor="end" stroke-width="0.5">20</text>
<line x1="351.60" y1="380.00" x2="356.90" y2="380.00" stroke-width="2.2" stroke-linecap="butt"/>
<text stroke="#000" stroke-linejoin="round" transform="translate(349.10,383.45) scale(1.04,1)" font-size="9.6" text-anchor="end" stroke-width="0.5">10</text>
<line x1="351.60" y1="426.20" x2="356.90" y2="426.20" stroke-width="2.2" stroke-linecap="butt"/>
<text stroke="#000" stroke-linejoin="round" transform="translate(349.10,429.65) scale(1.04,1)" font-size="9.6" text-anchor="end" stroke-width="0.5">0</text>
<text stroke="#000" stroke-linejoin="round" stroke-width="0.3" x="360.80" y="301.30" font-size="16.3" text-anchor="start" >d</text>
<line x1="382.50" y1="426.20" x2="382.50" y2="431.30" stroke-width="2.4" stroke-linecap="butt"/>
<line x1="434.90" y1="426.20" x2="434.90" y2="431.30" stroke-width="2.4" stroke-linecap="butt"/>
<text stroke="#000" stroke-linejoin="round" stroke-width="0.3" x="377.60" y="440.50" font-size="11" text-anchor="start">t<tspan font-size="8.0" dy="2.6">0</tspan></text>
<text stroke="#000" stroke-linejoin="round" stroke-width="0.3" x="421.20" y="440.50" font-size="11" text-anchor="start">t<tspan font-size="7.7" dy="2.6">wk15</tspan></text>
<line x1="487.10" y1="426.20" x2="487.10" y2="431.30" stroke-width="2.4" stroke-linecap="butt"/>
<line x1="539.00" y1="426.20" x2="539.00" y2="431.30" stroke-width="2.4" stroke-linecap="butt"/>
<text stroke="#000" stroke-linejoin="round" stroke-width="0.3" x="482.20" y="440.50" font-size="11" text-anchor="start">t<tspan font-size="8.0" dy="2.6">0</tspan></text>
<text stroke="#000" stroke-linejoin="round" stroke-width="0.3" x="525.30" y="440.50" font-size="11" text-anchor="start">t<tspan font-size="7.7" dy="2.6">wk15</tspan></text>
<line x1="379.30" y1="448.50" x2="439.60" y2="448.50" stroke-width="1.6" stroke-linecap="butt"/>
<line x1="481.70" y1="448.50" x2="546.20" y2="448.50" stroke-width="1.6" stroke-linecap="butt"/>
<text stroke="#000" stroke-linejoin="round" stroke-width="0.3" x="409.50" y="461.00" font-size="10.45" text-anchor="middle" >regressors</text>
<text stroke="#000" stroke-linejoin="round" stroke-width="0.3" x="513.50" y="461.00" font-size="10.45" text-anchor="middle" >non-regressors</text>
<text stroke="#000" stroke-linejoin="round" stroke-width="0.3" transform="translate(322.10,357.00) rotate(-90) scale(1.09,1)" font-size="9.5" text-anchor="middle">SFC/10<tspan font-size="6.8" dy="-4.7">6</tspan><tspan dy="4.7"> PBMC</tspan></text>
<line x1="382.50" y1="426.09" x2="434.90" y2="387.31" stroke-width="1.6" stroke-linecap="butt"/>
<line x1="382.50" y1="426.09" x2="434.90" y2="394.84" stroke-width="1.6" stroke-linecap="butt"/>
<line x1="382.50" y1="410.87" x2="434.90" y2="418.08" stroke-width="1.6" stroke-linecap="butt"/>
<line x1="382.50" y1="417.76" x2="434.90" y2="417.76" stroke-width="1.6" stroke-linecap="butt"/>
<line x1="382.50" y1="418.08" x2="434.90" y2="425.77" stroke-width="1.6" stroke-linecap="butt"/>
<line x1="382.50" y1="421.28" x2="434.90" y2="417.76" stroke-width="1.6" stroke-linecap="butt"/>
<line x1="382.50" y1="426.09" x2="434.90" y2="418.08" stroke-width="1.6" stroke-linecap="butt"/>
<line x1="382.50" y1="418.88" x2="434.90" y2="425.77" stroke-width="1.6" stroke-linecap="butt"/>
<line x1="487.10" y1="379.52" x2="539.00" y2="333.23" stroke-width="1.6" stroke-linecap="butt"/>
<line x1="487.10" y1="426.03" x2="539.00" y2="309.65" stroke-width="1.6" stroke-linecap="butt"/>
<line x1="487.10" y1="412.27" x2="539.00" y2="379.52" stroke-width="1.6" stroke-linecap="butt"/>
<line x1="487.10" y1="426.03" x2="539.00" y2="382.79" stroke-width="1.6" stroke-linecap="butt"/>
<line x1="487.10" y1="418.82" x2="539.00" y2="395.24" stroke-width="1.6" stroke-linecap="butt"/>
<line x1="487.10" y1="421.00" x2="539.00" y2="402.88" stroke-width="1.6" stroke-linecap="butt"/>
<line x1="487.10" y1="402.45" x2="539.00" y2="425.37" stroke-width="1.6" stroke-linecap="butt"/>
<line x1="487.10" y1="403.54" x2="539.00" y2="410.09" stroke-width="1.6" stroke-linecap="butt"/>
<line x1="487.10" y1="409.00" x2="539.00" y2="417.73" stroke-width="1.6" stroke-linecap="butt"/>
<line x1="487.10" y1="414.45" x2="539.00" y2="409.65" stroke-width="1.6" stroke-linecap="butt"/>
<line x1="487.10" y1="417.73" x2="539.00" y2="421.00" stroke-width="1.6" stroke-linecap="butt"/>
<line x1="487.10" y1="426.03" x2="539.00" y2="414.45" stroke-width="1.6" stroke-linecap="butt"/>
<line x1="487.10" y1="422.10" x2="539.00" y2="425.37" stroke-width="1.6" stroke-linecap="butt"/>
<line x1="487.10" y1="426.03" x2="539.00" y2="421.00" stroke-width="1.6" stroke-linecap="butt"/>
<line x1="487.10" y1="410.09" x2="539.00" y2="426.03" stroke-width="1.6" stroke-linecap="butt"/>
<line x1="487.10" y1="406.81" x2="539.00" y2="415.55" stroke-width="1.6" stroke-linecap="butt"/>
<line x1="487.10" y1="415.55" x2="539.00" y2="412.27" stroke-width="1.6" stroke-linecap="butt"/>
<line x1="70.50" y1="487.00" x2="70.50" y2="628.40" stroke-width="2.4" stroke-linecap="butt"/>
<line x1="65.20" y1="627.20" x2="279.50" y2="627.20" stroke-width="2.4" stroke-linecap="butt"/>
<line x1="65.20" y1="488.20" x2="70.50" y2="488.20" stroke-width="2.2" stroke-linecap="butt"/>
<text stroke="#000" stroke-linejoin="round" transform="translate(62.70,491.85) scale(1.04,1)" font-size="9.6" text-anchor="end" stroke-width="0.5">10000</text>
<line x1="65.20" y1="516.00" x2="70.50" y2="516.00" stroke-width="2.2" stroke-linecap="butt"/>
<text stroke="#000" stroke-linejoin="round" transform="translate(62.70,519.65) scale(1.04,1)" font-size="9.6" text-anchor="end" stroke-width="0.5">8000</text>
<line x1="65.20" y1="543.80" x2="70.50" y2="543.80" stroke-width="2.2" stroke-linecap="butt"/>
<text stroke="#000" stroke-linejoin="round" transform="translate(62.70,547.45) scale(1.04,1)" font-size="9.6" text-anchor="end" stroke-width="0.5">6000</text>
<line x1="65.20" y1="571.60" x2="70.50" y2="571.60" stroke-width="2.2" stroke-linecap="butt"/>
<text stroke="#000" stroke-linejoin="round" transform="translate(62.70,575.25) scale(1.04,1)" font-size="9.6" text-anchor="end" stroke-width="0.5">4000</text>
<line x1="65.20" y1="599.40" x2="70.50" y2="599.40" stroke-width="2.2" stroke-linecap="butt"/>
<text stroke="#000" stroke-linejoin="round" transform="translate(62.70,603.05) scale(1.04,1)" font-size="9.6" text-anchor="end" stroke-width="0.5">2000</text>
<line x1="65.20" y1="627.20" x2="70.50" y2="627.20" stroke-width="2.2" stroke-linecap="butt"/>
<text stroke="#000" stroke-linejoin="round" transform="translate(62.70,630.85) scale(1.04,1)" font-size="9.6" text-anchor="end" stroke-width="0.5">0</text>
<text stroke="#000" stroke-linejoin="round" stroke-width="0.3" x="73.90" y="500.50" font-size="16.3" text-anchor="start" >e</text>
<line x1="96.20" y1="627.20" x2="96.20" y2="632.30" stroke-width="2.4" stroke-linecap="butt"/>
<line x1="148.60" y1="627.20" x2="148.60" y2="632.30" stroke-width="2.4" stroke-linecap="butt"/>
<text stroke="#000" stroke-linejoin="round" stroke-width="0.3" x="91.30" y="641.50" font-size="11" text-anchor="start">t<tspan font-size="8.0" dy="2.6">0</tspan></text>
<text stroke="#000" stroke-linejoin="round" stroke-width="0.3" x="134.90" y="641.50" font-size="11" text-anchor="start">t<tspan font-size="7.7" dy="2.6">wk15</tspan></text>
<line x1="200.10" y1="627.20" x2="200.10" y2="632.30" stroke-width="2.4" stroke-linecap="butt"/>
<line x1="252.50" y1="627.20" x2="252.50" y2="632.30" stroke-width="2.4" stroke-linecap="butt"/>
<text stroke="#000" stroke-linejoin="round" stroke-width="0.3" x="195.20" y="641.50" font-size="11" text-anchor="start">t<tspan font-size="8.0" dy="2.6">0</tspan></text>
<text stroke="#000" stroke-linejoin="round" stroke-width="0.3" x="238.80" y="641.50" font-size="11" text-anchor="start">t<tspan font-size="7.7" dy="2.6">wk15</tspan></text>
<line x1="93.50" y1="649.80" x2="147.80" y2="649.80" stroke-width="1.6" stroke-linecap="butt"/>
<line x1="198.50" y1="649.80" x2="252.20" y2="649.80" stroke-width="1.6" stroke-linecap="butt"/>
<text stroke="#000" stroke-linejoin="round" stroke-width="0.3" x="120.70" y="663.90" font-size="10.45" text-anchor="middle" >regressors</text>
<text stroke="#000" stroke-linejoin="round" stroke-width="0.3" x="225.00" y="663.90" font-size="10.45" text-anchor="middle" >non-regressors</text>
<text stroke="#000" stroke-linejoin="round" stroke-width="0.3" transform="translate(28.80,558.30) rotate(-90) scale(1.09,1)" font-size="9.5" text-anchor="middle">SFC/10<tspan font-size="6.8" dy="-4.7">6</tspan><tspan dy="4.7"> PBMC</tspan></text>
<text stroke="#000" stroke-linejoin="round" stroke-width="0.3" transform="translate(10.60,558.20) rotate(-90)" font-size="13" text-anchor="middle">IVS ELISPOT</text>
<line x1="96.20" y1="509.00" x2="148.60" y2="545.68" stroke-width="1.6" stroke-linecap="butt"/>
<line x1="96.20" y1="570.79" x2="148.60" y2="559.43" stroke-width="1.6" stroke-linecap="butt"/>
<line x1="96.20" y1="584.98" x2="148.60" y2="591.97" stroke-width="1.6" stroke-linecap="butt"/>
<line x1="96.20" y1="601.79" x2="148.60" y2="622.75" stroke-width="1.6" stroke-linecap="butt"/>
<line x1="96.20" y1="602.45" x2="148.60" y2="616.64" stroke-width="1.6" stroke-linecap="butt"/>
<line x1="96.20" y1="615.55" x2="148.60" y2="613.36" stroke-width="1.6" stroke-linecap="butt"/>
<line x1="96.20" y1="616.64" x2="148.60" y2="614.45" stroke-width="1.6" stroke-linecap="butt"/>
<line x1="96.20" y1="623.19" x2="148.60" y2="597.42" stroke-width="1.6" stroke-linecap="butt"/>
<line x1="96.20" y1="622.10" x2="148.60" y2="606.81" stroke-width="1.6" stroke-linecap="butt"/>
<line x1="96.20" y1="621.00" x2="148.60" y2="609.00" stroke-width="1.6" stroke-linecap="butt"/>
<line x1="96.20" y1="624.28" x2="148.60" y2="607.90" stroke-width="1.6" stroke-linecap="butt"/>
<line x1="96.20" y1="619.91" x2="148.60" y2="616.64" stroke-width="1.6" stroke-linecap="butt"/>
<line x1="96.20" y1="623.19" x2="148.60" y2="625.81" stroke-width="1.6" stroke-linecap="butt"/>
<line x1="96.20" y1="625.37" x2="148.60" y2="626.46" stroke-width="1.6" stroke-linecap="butt"/>
<line x1="200.10" y1="548.52" x2="252.50" y2="609.00" stroke-width="1.6" stroke-linecap="butt"/>
<line x1="200.10" y1="559.43" x2="252.50" y2="590.44" stroke-width="1.6" stroke-linecap="butt"/>
<line x1="200.10" y1="562.71" x2="252.50" y2="607.90" stroke-width="1.6" stroke-linecap="butt"/>
<line x1="200.10" y1="574.06" x2="252.50" y2="610.09" stroke-width="1.6" stroke-linecap="butt"/>
<line x1="200.10" y1="607.90" x2="252.50" y2="526.68" stroke-width="1.6" stroke-linecap="butt"/>
<line x1="200.10" y1="605.72" x2="252.50" y2="569.04" stroke-width="1.6" stroke-linecap="butt"/>
<line x1="200.10" y1="606.81" x2="252.50" y2="584.98" stroke-width="1.6" stroke-linecap="butt"/>
<line x1="200.10" y1="600.26" x2="252.50" y2="607.90" stroke-width="1.6" stroke-linecap="butt"/>
<line x1="200.10" y1="601.35" x2="252.50" y2="609.00" stroke-width="1.6" stroke-linecap="butt"/>
<line x1="200.10" y1="607.90" x2="252.50" y2="603.97" stroke-width="1.6" stroke-linecap="butt"/>
<line x1="200.10" y1="603.10" x2="252.50" y2="612.27" stroke-width="1.6" stroke-linecap="butt"/>
<line x1="200.10" y1="604.63" x2="252.50" y2="610.52" stroke-width="1.6" stroke-linecap="butt"/>
<line x1="200.10" y1="606.81" x2="252.50" y2="609.65" stroke-width="1.6" stroke-linecap="butt"/>
<line x1="200.10" y1="607.79" x2="252.50" y2="609.65" stroke-width="1.6" stroke-linecap="butt"/>
<line x1="200.10" y1="608.78" x2="252.50" y2="610.23" stroke-width="1.6" stroke-linecap="butt"/>
<line x1="200.10" y1="609.76" x2="252.50" y2="609.65" stroke-width="1.6" stroke-linecap="butt"/>
<line x1="200.10" y1="610.74" x2="252.50" y2="611.09" stroke-width="1.6" stroke-linecap="butt"/>
<line x1="200.10" y1="611.72" x2="252.50" y2="610.43" stroke-width="1.6" stroke-linecap="butt"/>
<line x1="200.10" y1="612.71" x2="252.50" y2="609.65" stroke-width="1.6" stroke-linecap="butt"/>
<line x1="200.10" y1="613.69" x2="252.50" y2="613.76" stroke-width="1.6" stroke-linecap="butt"/>
<line x1="200.10" y1="614.67" x2="252.50" y2="610.23" stroke-width="1.6" stroke-linecap="butt"/>
<line x1="200.10" y1="615.66" x2="252.50" y2="615.02" stroke-width="1.6" stroke-linecap="butt"/>
<line x1="200.10" y1="616.64" x2="252.50" y2="612.51" stroke-width="1.6" stroke-linecap="butt"/>
<line x1="200.10" y1="617.29" x2="252.50" y2="613.36" stroke-width="1.6" stroke-linecap="butt"/>
<line x1="200.10" y1="617.95" x2="252.50" y2="617.22" stroke-width="1.6" stroke-linecap="butt"/>
<line x1="200.10" y1="618.60" x2="252.50" y2="621.74" stroke-width="1.6" stroke-linecap="butt"/>
<line x1="200.10" y1="619.26" x2="252.50" y2="615.64" stroke-width="1.6" stroke-linecap="butt"/>
<line x1="200.10" y1="619.91" x2="252.50" y2="617.25" stroke-width="1.6" stroke-linecap="butt"/>
<line x1="200.10" y1="620.57" x2="252.50" y2="621.79" stroke-width="1.6" stroke-linecap="butt"/>
<line x1="200.10" y1="621.22" x2="252.50" y2="625.52" stroke-width="1.6" stroke-linecap="butt"/>
<line x1="200.10" y1="621.88" x2="252.50" y2="622.62" stroke-width="1.6" stroke-linecap="butt"/>
<line x1="200.10" y1="622.53" x2="252.50" y2="621.54" stroke-width="1.6" stroke-linecap="butt"/>
<line x1="200.10" y1="623.19" x2="252.50" y2="627.12" stroke-width="1.6" stroke-linecap="butt"/>
<line x1="200.10" y1="623.84" x2="252.50" y2="619.49" stroke-width="1.6" stroke-linecap="butt"/>
<line x1="200.10" y1="624.50" x2="252.50" y2="627.12" stroke-width="1.6" stroke-linecap="butt"/>
<line x1="200.10" y1="625.15" x2="252.50" y2="623.13" stroke-width="1.6" stroke-linecap="butt"/>
<line x1="200.10" y1="625.81" x2="252.50" y2="622.39" stroke-width="1.6" stroke-linecap="butt"/>
<line x1="200.10" y1="626.46" x2="252.50" y2="622.79" stroke-width="1.6" stroke-linecap="butt"/>
<line x1="200.10" y1="608.25" x2="252.50" y2="610.09" stroke-width="1.6" stroke-linecap="butt"/>
<line x1="200.10" y1="614.11" x2="252.50" y2="611.07" stroke-width="1.6" stroke-linecap="butt"/>
<line x1="200.10" y1="608.99" x2="252.50" y2="612.05" stroke-width="1.6" stroke-linecap="butt"/>
<line x1="200.10" y1="613.82" x2="252.50" y2="613.03" stroke-width="1.6" stroke-linecap="butt"/>
<line x1="200.10" y1="615.35" x2="252.50" y2="614.02" stroke-width="1.6" stroke-linecap="butt"/>
<line x1="200.10" y1="613.77" x2="252.50" y2="615.00" stroke-width="1.6" stroke-linecap="butt"/>
<line x1="200.10" y1="616.44" x2="252.50" y2="615.98" stroke-width="1.6" stroke-linecap="butt"/>
<line x1="200.10" y1="612.76" x2="252.50" y2="616.97" stroke-width="1.6" stroke-linecap="butt"/>
<line x1="200.10" y1="613.72" x2="252.50" y2="617.95" stroke-width="1.6" stroke-linecap="butt"/>
<line x1="200.10" y1="615.78" x2="252.50" y2="618.60" stroke-width="1.6" stroke-linecap="butt"/>
<line x1="200.10" y1="620.99" x2="252.50" y2="619.26" stroke-width="1.6" stroke-linecap="butt"/>
<line x1="200.10" y1="619.22" x2="252.50" y2="619.91" stroke-width="1.6" stroke-linecap="butt"/>
<line x1="200.10" y1="618.78" x2="252.50" y2="620.57" stroke-width="1.6" stroke-linecap="butt"/>
<line x1="200.10" y1="622.04" x2="252.50" y2="621.22" stroke-width="1.6" stroke-linecap="butt"/>
<line x1="200.10" y1="621.43" x2="252.50" y2="621.88" stroke-width="1.6" stroke-linecap="butt"/>
<line x1="200.10" y1="620.61" x2="252.50" y2="622.53" stroke-width="1.6" stroke-linecap="butt"/>
<line x1="200.10" y1="626.02" x2="252.50" y2="623.19" stroke-width="1.6" stroke-linecap="butt"/>
<line x1="200.10" y1="625.75" x2="252.50" y2="623.84" stroke-width="1.6" stroke-linecap="butt"/>
<line x1="200.10" y1="622.04" x2="252.50" y2="624.50" stroke-width="1.6" stroke-linecap="butt"/>
<line x1="200.10" y1="625.87" x2="252.50" y2="625.15" stroke-width="1.6" stroke-linecap="butt"/>
<line x1="200.10" y1="626.05" x2="252.50" y2="625.81" stroke-width="1.6" stroke-linecap="butt"/>
<line x1="200.10" y1="627.12" x2="252.50" y2="626.46" stroke-width="1.6" stroke-linecap="butt"/>
<line x1="357.10" y1="486.60" x2="357.10" y2="628.40" stroke-width="2.4" stroke-linecap="butt"/>
<line x1="351.80" y1="627.20" x2="567.00" y2="627.20" stroke-width="2.4" stroke-linecap="butt"/>
<line x1="351.80" y1="488.00" x2="357.10" y2="488.00" stroke-width="2.2" stroke-linecap="butt"/>
<text stroke="#000" stroke-linejoin="round" transform="translate(349.30,491.65) scale(1.04,1)" font-size="9.6" text-anchor="end" stroke-width="0.5">10000</text>
<line x1="351.80" y1="515.80" x2="357.10" y2="515.80" stroke-width="2.2" stroke-linecap="butt"/>
<text stroke="#000" stroke-linejoin="round" transform="translate(349.30,519.45) scale(1.04,1)" font-size="9.6" text-anchor="end" stroke-width="0.5">8000</text>
<line x1="351.80" y1="543.60" x2="357.10" y2="543.60" stroke-width="2.2" stroke-linecap="butt"/>
<text stroke="#000" stroke-linejoin="round" transform="translate(349.30,547.25) scale(1.04,1)" font-size="9.6" text-anchor="end" stroke-width="0.5">6000</text>
<line x1="351.80" y1="571.40" x2="357.10" y2="571.40" stroke-width="2.2" stroke-linecap="butt"/>
<text stroke="#000" stroke-linejoin="round" transform="translate(349.30,575.05) scale(1.04,1)" font-size="9.6" text-anchor="end" stroke-width="0.5">4000</text>
<line x1="351.80" y1="599.20" x2="357.10" y2="599.20" stroke-width="2.2" stroke-linecap="butt"/>
<text stroke="#000" stroke-linejoin="round" transform="translate(349.30,602.85) scale(1.04,1)" font-size="9.6" text-anchor="end" stroke-width="0.5">2000</text>
<line x1="351.80" y1="627.20" x2="357.10" y2="627.20" stroke-width="2.2" stroke-linecap="butt"/>
<text stroke="#000" stroke-linejoin="round" transform="translate(349.30,630.85) scale(1.04,1)" font-size="9.6" text-anchor="end" stroke-width="0.5">0</text>
<text stroke="#000" stroke-linejoin="round" stroke-width="0.3" x="362.90" y="502.30" font-size="16.3" text-anchor="start" >f</text>
<line x1="382.90" y1="627.20" x2="382.90" y2="632.30" stroke-width="2.4" stroke-linecap="butt"/>
<line x1="435.30" y1="627.20" x2="435.30" y2="632.30" stroke-width="2.4" stroke-linecap="butt"/>
<text stroke="#000" stroke-linejoin="round" stroke-width="0.3" x="378.00" y="641.50" font-size="11" text-anchor="start">t<tspan font-size="8.0" dy="2.6">0</tspan></text>
<text stroke="#000" stroke-linejoin="round" stroke-width="0.3" x="421.60" y="641.50" font-size="11" text-anchor="start">t<tspan font-size="7.7" dy="2.6">wk15</tspan></text>
<line x1="487.40" y1="627.20" x2="487.40" y2="632.30" stroke-width="2.4" stroke-linecap="butt"/>
<line x1="539.80" y1="627.20" x2="539.80" y2="632.30" stroke-width="2.4" stroke-linecap="butt"/>
<text stroke="#000" stroke-linejoin="round" stroke-width="0.3" x="482.50" y="641.50" font-size="11" text-anchor="start">t<tspan font-size="8.0" dy="2.6">0</tspan></text>
<text stroke="#000" stroke-linejoin="round" stroke-width="0.3" x="526.10" y="641.50" font-size="11" text-anchor="start">t<tspan font-size="7.7" dy="2.6">wk15</tspan></text>
<line x1="380.50" y1="649.80" x2="435.30" y2="649.80" stroke-width="1.6" stroke-linecap="butt"/>
<line x1="488.50" y1="649.80" x2="539.10" y2="649.80" stroke-width="1.6" stroke-linecap="butt"/>
<text stroke="#000" stroke-linejoin="round" stroke-width="0.3" x="410.50" y="664.00" font-size="10.45" text-anchor="middle" >regressors</text>
<text stroke="#000" stroke-linejoin="round" stroke-width="0.3" x="514.90" y="664.00" font-size="10.45" text-anchor="middle" >non-regressors</text>
<text stroke="#000" stroke-linejoin="round" stroke-width="0.3" transform="translate(310.30,557.60) rotate(-90) scale(1.09,1)" font-size="9.5" text-anchor="middle">SFC/10<tspan font-size="6.8" dy="-4.7">6</tspan><tspan dy="4.7"> PBMC</tspan></text>
<line x1="382.90" y1="597.21" x2="435.30" y2="595.14" stroke-width="1.6" stroke-linecap="butt"/>
<line x1="382.90" y1="608.84" x2="435.30" y2="591.01" stroke-width="1.6" stroke-linecap="butt"/>
<line x1="382.90" y1="608.84" x2="435.30" y2="623.31" stroke-width="1.6" stroke-linecap="butt"/>
<line x1="382.90" y1="612.97" x2="435.30" y2="622.02" stroke-width="1.6" stroke-linecap="butt"/>
<line x1="382.90" y1="623.95" x2="435.30" y2="607.55" stroke-width="1.6" stroke-linecap="butt"/>
<line x1="382.90" y1="624.60" x2="435.30" y2="608.06" stroke-width="1.6" stroke-linecap="butt"/>
<line x1="382.90" y1="617.49" x2="435.30" y2="616.85" stroke-width="1.6" stroke-linecap="butt"/>
<line x1="382.90" y1="618.79" x2="435.30" y2="619.43" stroke-width="1.6" stroke-linecap="butt"/>
<line x1="382.90" y1="620.08" x2="435.30" y2="622.66" stroke-width="1.6" stroke-linecap="butt"/>
<line x1="382.90" y1="620.72" x2="435.30" y2="625.25" stroke-width="1.6" stroke-linecap="butt"/>
<line x1="382.90" y1="624.60" x2="435.30" y2="623.95" stroke-width="1.6" stroke-linecap="butt"/>
<line x1="382.90" y1="625.25" x2="435.30" y2="624.60" stroke-width="1.6" stroke-linecap="butt"/>
<line x1="382.90" y1="625.89" x2="435.30" y2="625.89" stroke-width="1.6" stroke-linecap="butt"/>
<line x1="382.90" y1="626.54" x2="435.30" y2="626.54" stroke-width="1.6" stroke-linecap="butt"/>
<line x1="382.90" y1="623.31" x2="435.30" y2="625.89" stroke-width="1.6" stroke-linecap="butt"/>
<line x1="382.90" y1="626.15" x2="435.30" y2="625.25" stroke-width="1.6" stroke-linecap="butt"/>
<line x1="487.40" y1="568.68" x2="539.80" y2="614.42" stroke-width="1.6" stroke-linecap="butt"/>
<line x1="487.40" y1="580.78" x2="539.80" y2="602.02" stroke-width="1.6" stroke-linecap="butt"/>
<line x1="487.40" y1="600.93" x2="539.80" y2="615.97" stroke-width="1.6" stroke-linecap="butt"/>
<line x1="487.40" y1="617.52" x2="539.80" y2="595.04" stroke-width="1.6" stroke-linecap="butt"/>
<line x1="487.40" y1="617.52" x2="539.80" y2="601.24" stroke-width="1.6" stroke-linecap="butt"/>
<line x1="487.40" y1="619.07" x2="539.80" y2="603.57" stroke-width="1.6" stroke-linecap="butt"/>
<line x1="487.40" y1="610.54" x2="539.80" y2="615.97" stroke-width="1.6" stroke-linecap="butt"/>
<line x1="487.40" y1="612.09" x2="539.80" y2="617.52" stroke-width="1.6" stroke-linecap="butt"/>
<line x1="487.40" y1="613.64" x2="539.80" y2="612.87" stroke-width="1.6" stroke-linecap="butt"/>
<line x1="487.40" y1="616.28" x2="539.80" y2="617.56" stroke-width="1.6" stroke-linecap="butt"/>
<line x1="487.40" y1="617.36" x2="539.80" y2="616.18" stroke-width="1.6" stroke-linecap="butt"/>
<line x1="487.40" y1="618.45" x2="539.80" y2="621.13" stroke-width="1.6" stroke-linecap="butt"/>
<line x1="487.40" y1="619.53" x2="539.80" y2="617.40" stroke-width="1.6" stroke-linecap="butt"/>
<line x1="487.40" y1="620.62" x2="539.80" y2="620.16" stroke-width="1.6" stroke-linecap="butt"/>
<line x1="487.40" y1="621.71" x2="539.80" y2="623.14" stroke-width="1.6" stroke-linecap="butt"/>
<line x1="487.40" y1="622.79" x2="539.80" y2="620.85" stroke-width="1.6" stroke-linecap="butt"/>
<line x1="487.40" y1="623.29" x2="539.80" y2="623.23" stroke-width="1.6" stroke-linecap="butt"/>
<line x1="487.40" y1="623.78" x2="539.80" y2="621.21" stroke-width="1.6" stroke-linecap="butt"/>
<line x1="487.40" y1="624.28" x2="539.80" y2="625.22" stroke-width="1.6" stroke-linecap="butt"/>
<line x1="487.40" y1="624.78" x2="539.80" y2="626.25" stroke-width="1.6" stroke-linecap="butt"/>
<line x1="487.40" y1="625.27" x2="539.80" y2="625.68" stroke-width="1.6" stroke-linecap="butt"/>
<line x1="487.40" y1="625.77" x2="539.80" y2="627.13" stroke-width="1.6" stroke-linecap="butt"/>
<line x1="487.40" y1="626.26" x2="539.80" y2="625.22" stroke-width="1.6" stroke-linecap="butt"/>
<line x1="487.40" y1="626.76" x2="539.80" y2="627.13" stroke-width="1.6" stroke-linecap="butt"/>
<line x1="487.40" y1="616.28" x2="539.80" y2="614.11" stroke-width="1.6" stroke-linecap="butt"/>
<line x1="487.40" y1="616.28" x2="539.80" y2="615.19" stroke-width="1.6" stroke-linecap="butt"/>
<line x1="487.40" y1="616.28" x2="539.80" y2="616.28" stroke-width="1.6" stroke-linecap="butt"/>
<line x1="487.40" y1="619.26" x2="539.80" y2="617.36" stroke-width="1.6" stroke-linecap="butt"/>
<line x1="487.40" y1="620.93" x2="539.80" y2="618.45" stroke-width="1.6" stroke-linecap="butt"/>
<line x1="487.40" y1="619.39" x2="539.80" y2="619.53" stroke-width="1.6" stroke-linecap="butt"/>
<line x1="487.40" y1="621.54" x2="539.80" y2="620.62" stroke-width="1.6" stroke-linecap="butt"/>
<line x1="487.40" y1="619.25" x2="539.80" y2="621.71" stroke-width="1.6" stroke-linecap="butt"/>
<line x1="487.40" y1="623.92" x2="539.80" y2="622.79" stroke-width="1.6" stroke-linecap="butt"/>
<line x1="487.40" y1="624.11" x2="539.80" y2="623.29" stroke-width="1.6" stroke-linecap="butt"/>
<line x1="487.40" y1="626.54" x2="539.80" y2="623.78" stroke-width="1.6" stroke-linecap="butt"/>
<line x1="487.40" y1="626.08" x2="539.80" y2="624.28" stroke-width="1.6" stroke-linecap="butt"/>
<line x1="487.40" y1="623.57" x2="539.80" y2="624.78" stroke-width="1.6" stroke-linecap="butt"/>
<line x1="487.40" y1="624.63" x2="539.80" y2="625.27" stroke-width="1.6" stroke-linecap="butt"/>
<line x1="487.40" y1="626.71" x2="539.80" y2="625.77" stroke-width="1.6" stroke-linecap="butt"/>
<line x1="487.40" y1="623.60" x2="539.80" y2="626.26" stroke-width="1.6" stroke-linecap="butt"/>
<line x1="487.40" y1="626.55" x2="539.80" y2="626.76" stroke-width="1.6" stroke-linecap="butt"/>
<text stroke="#000" stroke-linejoin="round" stroke-width="0.3" x="169.50" y="686.40" font-size="15.5" text-anchor="middle" >E6</text>
<text stroke="#000" stroke-linejoin="round" stroke-width="0.3" x="452.80" y="686.40" font-size="15.5" text-anchor="middle" >E7</text>
</g>
</svg>
</body></html>
